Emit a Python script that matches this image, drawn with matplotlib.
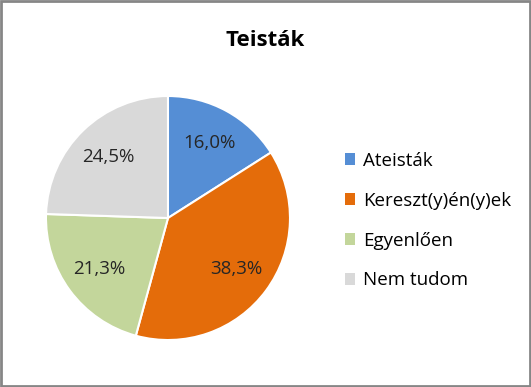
import matplotlib.pyplot as plt
from matplotlib.patches import Rectangle, Patch

plt.rcParams['font.family'] = ['Open Sans', 'DejaVu Sans']

# data
categories = ['Ateisták', 'Kereszt(y)én(y)ek', 'Egyenlően', 'Nem tudom']
shares = [16.0, 38.3, 21.3, 24.5]
colors = ['#558ED5', '#E46C0A', '#C3D69B', '#D9D9D9']
title = 'Teisták'

fig = plt.figure(figsize=(5.31, 3.87), dpi=100)
ax = fig.add_axes([0.0866, 0.1214, 0.4595, 0.6305])

wedges, texts, autotexts = ax.pie(
    shares, colors=colors, startangle=90, counterclock=False,
    autopct=lambda p: f'{p:.1f}%'.replace('.', ','), pctdistance=0.7,
    wedgeprops=dict(edgecolor='white', linewidth=1.5),
    textprops=dict(fontsize=13.5, color='#262626'))
ax.set_aspect('auto')
ax.set_xlim(-1, 1)
ax.set_ylim(-1, 1)

fig.text(0.5, 0.895, title, ha='center', va='center', fontsize=16, fontweight='bold')

handles = [Patch(facecolor=c, edgecolor='none') for c in colors]
fig.legend(handles, categories, loc='center left', bbox_to_anchor=(0.618, 0.43),
           frameon=False, fontsize=13.5, handlelength=0.55, handleheight=0.55,
           handletextpad=0.4, labelspacing=1.17)

fig.patches.append(Rectangle((0.002, 0.003), 0.996, 0.994, transform=fig.transFigure,
                             fill=False, edgecolor='#868686', linewidth=2))

fig.savefig('out.png', dpi=100)
